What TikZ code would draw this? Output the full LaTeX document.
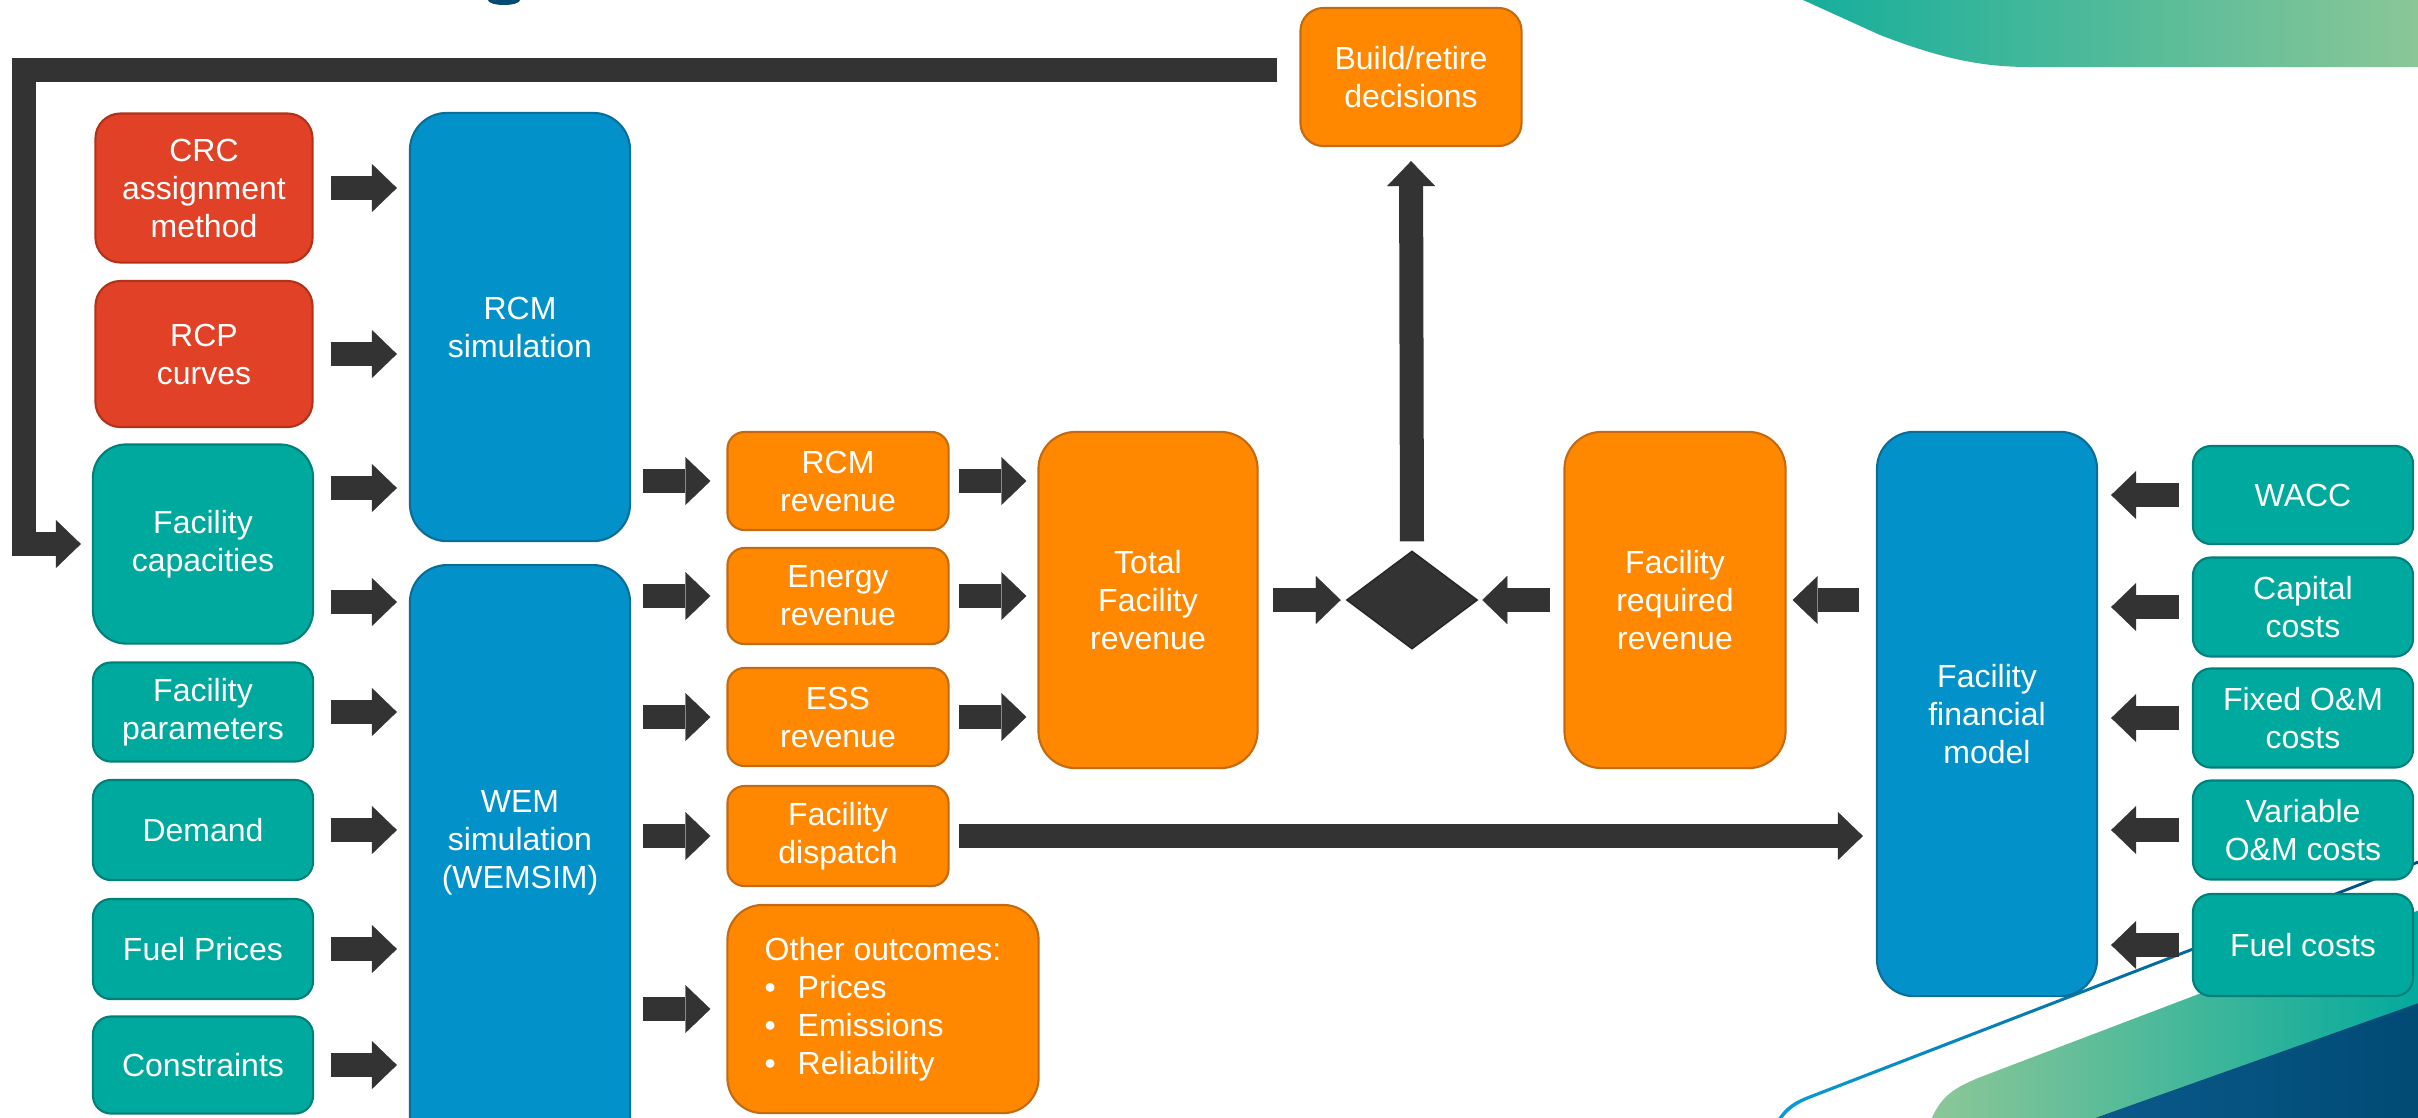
\documentclass[tikz,border=0pt]{standalone}
\usepackage{fontspec}
\setmainfont{Liberation Sans}
\usetikzlibrary{arrows.meta,shapes.geometric}

\definecolor{inred}{HTML}{E04127}
\definecolor{inredline}{HTML}{B23218}
\definecolor{inteal}{HTML}{00A99D}
\definecolor{intealline}{HTML}{00807A}
\definecolor{simblue}{HTML}{0292C9}
\definecolor{simblueline}{HTML}{0A6E98}
\definecolor{outorange}{HTML}{FF8800}
\definecolor{outorangeline}{HTML}{C46A10}
\definecolor{arrowgrey}{HTML}{333333}
\definecolor{bandteal}{HTML}{14AE9C}
\definecolor{bandgreen}{HTML}{8DC797}
\definecolor{navy}{HTML}{004A74}
\definecolor{navylight}{HTML}{0B5A8C}
\definecolor{lineblue}{HTML}{0A9BD7}

\begin{document}
\begin{tikzpicture}[x=0.01cm,y=-0.01cm,
	box/.style={draw, line width=0.6pt, text=white, align=center, inner sep=0pt,
		font=\fontsize{9.1}{10.8}\selectfont},
	inbox/.style={box, fill=inteal, draw=intealline},
	crcbox/.style={box, fill=inred, draw=inredline},
	simbox/.style={box, fill=simblue, draw=simblueline, minimum width=2.2cm, rounded corners=0.37cm},
	outbox/.style={box, fill=outorange, draw=outorangeline},
	blk/.style={arrowgrey, line width=0.24cm,
		-{Triangle[length=0.25cm,width=0.48cm,line width=0.1pt]}},
]
\useasboundingbox (0,0) rectangle (2418,1117);

% corner artwork
\fill[navy] (504,0) ellipse (16 and 5);
\shade[left color=bandteal, right color=bandgreen] (1792,-5) -- (1880,35)
	.. controls (1940,58) and (1980,67) .. (2030,67) -- (2430,67) -- (2430,-5) -- cycle;
\shade[left color=bandgreen, right color=inteal] (1929,1125) .. controls (1940,1095) and (1955,1088) .. (1978,1078)
	-- (2430,906) -- (2430,1125) -- cycle;
\shade[left color=navylight, right color=navy] (2098,1117) -- (2430,999) -- (2430,1125) -- (2080,1125) -- cycle;
\shade[left color=lineblue, right color=navy] (1777,1120) .. controls (1786,1106) and (1795,1101) .. (1808,1096)
	-- (2430,856) -- (2430,859) -- (1809,1099) .. controls (1797,1104) and (1789,1109) .. (1781,1120) -- cycle;

% inputs
\node[crcbox, minimum width=2.17cm, minimum height=1.49cm, rounded corners=0.25cm] (crc) at (204,188) {CRC\\assignment\\method};
\node[crcbox, minimum width=2.17cm, minimum height=1.46cm, rounded corners=0.25cm] (rcp) at (204,354) {RCP\\curves};
\node[inbox, minimum width=2.2cm, minimum height=1.99cm, rounded corners=0.33cm] (cap) at (203,544) {Facility\\capacities};
\node[inbox, minimum width=2.2cm, minimum height=0.99cm, rounded corners=0.18cm] (param) at (203,712) {Facility\\parameters};
\node[inbox, minimum width=2.2cm, minimum height=1.0cm, rounded corners=0.18cm] (demand) at (203,830) {Demand};
\node[inbox, minimum width=2.2cm, minimum height=1.0cm, rounded corners=0.18cm] (fuelp) at (203,949) {Fuel Prices};
\node[inbox, minimum width=2.2cm, minimum height=0.97cm, rounded corners=0.18cm] (cons) at (203,1065) {Constraints};

% simulations
\node[simbox, minimum height=4.28cm] (rcm) at (520,327) {RCM\\simulation};
\node[simbox, minimum height=6cm, anchor=north] (wem) at (520,564) {};
\node[box, draw=none] (wemtext) at (520,843) {WEM\\simulation\\(WEMSIM)};

% outcomes
\node[outbox, minimum width=2.21cm, minimum height=0.98cm, rounded corners=0.17cm] (rcmrev) at (838,481) {RCM\\revenue};
\node[outbox, minimum width=2.21cm, minimum height=0.96cm, rounded corners=0.17cm] (enrev) at (838,596) {Energy\\revenue};
\node[outbox, minimum width=2.21cm, minimum height=0.98cm, rounded corners=0.17cm] (essrev) at (838,717) {ESS\\revenue};
\node[outbox, minimum width=2.21cm, minimum height=1.0cm, rounded corners=0.17cm] (disp) at (838,836) {Facility\\dispatch};
\node[outbox, minimum width=3.11cm, minimum height=2.08cm, rounded corners=0.35cm, align=left] (other) at (883,1009)
	{Other outcomes:\\\makebox[0.33cm][l]{•}Prices\\\makebox[0.33cm][l]{•}Emissions\\\makebox[0.33cm][l]{•}Reliability};
\node[outbox, minimum width=2.19cm, minimum height=3.36cm, rounded corners=0.37cm] (total) at (1148,600) {Total\\Facility\\revenue};
\node[diamond, fill=arrowgrey, draw=black!85, inner sep=0pt, minimum width=1.31cm, minimum height=0.98cm] (dia) at (1412,600) {};
\node[outbox, minimum width=2.21cm, minimum height=3.36cm, rounded corners=0.37cm] (req) at (1675,600) {Facility\\required\\revenue};
\node[outbox, minimum width=2.21cm, minimum height=1.38cm, rounded corners=0.23cm] (build) at (1411,77) {Build/retire\\decisions};

% financial model and its inputs
\node[simbox, minimum height=5.64cm] (fin) at (1987,714) {Facility\\financial\\model};
\node[inbox, minimum width=2.2cm, minimum height=0.98cm, rounded corners=0.18cm] (wacc) at (2303,495) {WACC};
\node[inbox, minimum width=2.2cm, minimum height=0.99cm, rounded corners=0.18cm] (capc) at (2303,607) {Capital\\costs};
\node[inbox, minimum width=2.2cm, minimum height=0.99cm, rounded corners=0.18cm] (fixed) at (2303,718) {Fixed O\&M\\costs};
\node[inbox, minimum width=2.2cm, minimum height=0.99cm, rounded corners=0.18cm] (var) at (2303,830) {Variable\\O\&M costs};
\node[inbox, minimum width=2.2cm, minimum height=1.02cm, rounded corners=0.18cm] (fuelc) at (2303,945) {Fuel costs};

% block arrows
\foreach \n in {crc,rcp}
	\draw[blk, shorten <=0.17cm, shorten >=0.12cm] (\n.east) -- (\n.east -| rcm.west);
\draw[blk, shorten <=0.17cm, shorten >=0.12cm] ([shift={(0,-56)}]cap.east) -- ([shift={(0,-56)}]cap.east -| rcm.west);
\draw[blk, shorten <=0.17cm, shorten >=0.12cm] ([shift={(0,58)}]cap.east) -- ([shift={(0,58)}]cap.east -| wem.west);
\foreach \n in {param,demand,fuelp,cons}
	\draw[blk, shorten <=0.17cm, shorten >=0.12cm] (\n.east) -- (\n.east -| wem.west);
\foreach \n in {rcmrev,enrev,essrev,disp,other}
	\draw[blk, shorten <=0.12cm, shorten >=0.16cm] (\n.west -| rcm.east) -- (\n.west);
\foreach \n in {rcmrev,enrev,essrev}
	\draw[blk, shorten <=0.09cm, shorten >=0.11cm] (\n.east) -- (\n.east -| total.west);
\draw[blk, shorten <=0.14cm, shorten >=0.05cm] (total.east) -- (dia.west);
\draw[blk, shorten <=0.13cm, shorten >=0.04cm] (req.west) -- (dia.east);
\draw[blk, shorten <=0.09cm, shorten >=0.14cm] (dia.north) -- (build.south);
\draw[blk, shorten <=0.17cm, shorten >=0.06cm] (req.east -| fin.west) -- (req.east);
\draw[blk, shorten <=0.09cm, shorten >=0.13cm] (disp.east) -- (disp.east -| fin.west);
\foreach \n in {wacc,capc,fixed,var,fuelc}
	\draw[blk, shorten <=0.13cm, shorten >=0.13cm] (\n.west) -- (\n.west -| fin.east);

% feedback loop
\draw[blk, line join=miter] ([shift={(-22,-7)}]build.west) -| ([shift={(-68,0)}]cap.west) -- ([shift={(-11,0)}]cap.west);
\end{tikzpicture}
\end{document}
